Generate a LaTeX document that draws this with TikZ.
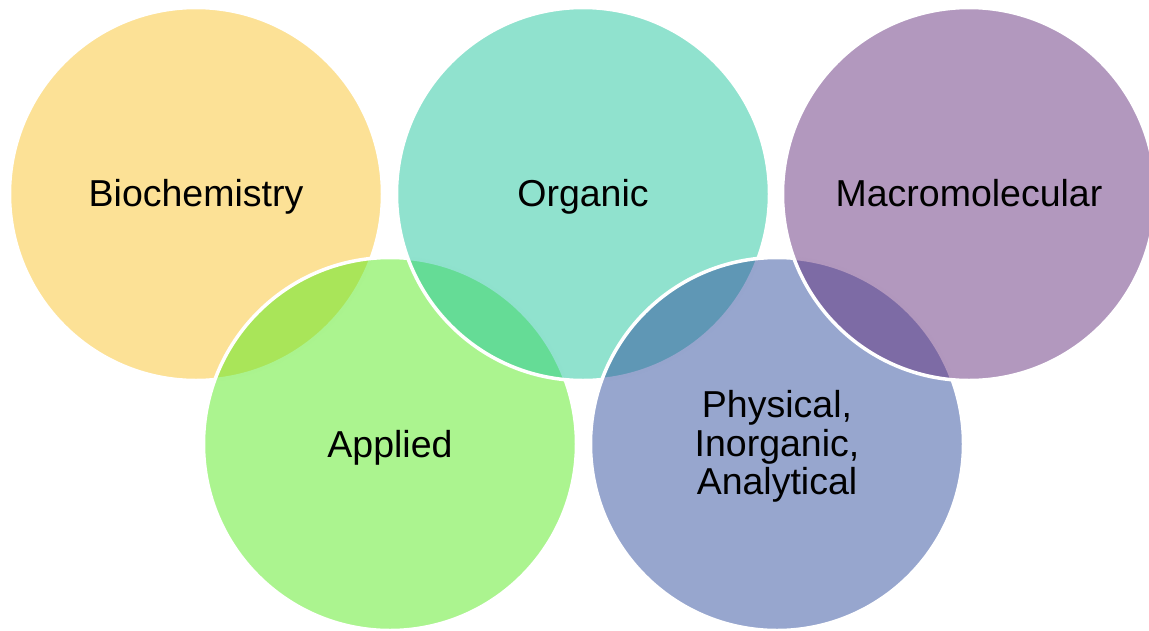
\documentclass[tikz,border=0pt]{standalone}
\usepackage{fontspec}
\setmainfont{Liberation Sans}
\definecolor{cBio}{HTML}{F9C32D}
\definecolor{cOrg}{HTML}{21C59D}
\definecolor{cMac}{HTML}{65317D}
\definecolor{cApp}{HTML}{57E91F}
\definecolor{cPhy}{HTML}{2F4D9D}
\begin{document}
\begin{tikzpicture}[x=1pt,y=-1pt,
  venn/.style={circle, minimum size=373pt, inner sep=0pt, outer sep=0pt,
    draw=white, line width=3.5pt, fill opacity=0.5},
  lbl/.style={anchor=base, inner sep=0pt, align=center,
    font=\fontsize{37.5}{38.3}\selectfont}]
\useasboundingbox (0,0) rectangle (1149,630);
\node[venn, fill=cBio] (bio) at (196,194) {};
\node[venn, fill=cApp] (app) at (390,444) {};
\node[venn, fill=cOrg] (org) at (583,194) {};
\node[venn, fill=cPhy] (phy) at (777,444) {};
\node[venn, fill=cMac] (mac) at (969,194) {};
\node[lbl] (tbio) at (196,206) {Biochemistry};
\node[lbl] (torg) at (583,206) {Organic};
\node[lbl] (tmac) at (969,206) {Macromolecular};
\node[lbl] (tapp) at (390,457) {Applied};
\node[lbl] (tphy) at (777,494.3) {Physical,\\Inorganic,\\Analytical};
\end{tikzpicture}
\end{document}
